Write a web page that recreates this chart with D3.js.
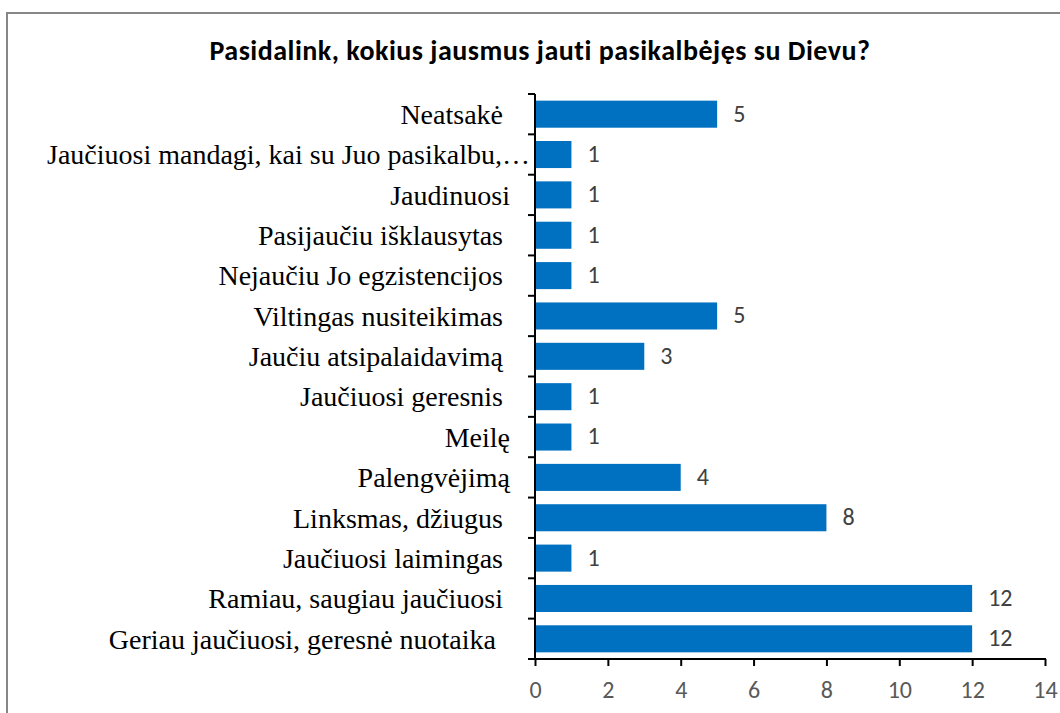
<!DOCTYPE html>
<html>
<head>
<meta charset="utf-8">
<script src="https://cdn.jsdelivr.net/npm/d3@7"></script>
<style>
  body { margin:0; background:#fff; }
  svg { display:block; }
</style>
</head>
<body>
<div class="content"></div>
<script>
const W = 1060, H = 713;
const margin = { top:94, right:15, bottom:54, left:535 };
const sansFont = "Carlito, 'Open Sans', 'Liberation Sans', sans-serif";
const serifFont = "'Liberation Serif', 'Times New Roman', serif";

// data (top to bottom)
const categories = [
  "Neatsakė ",
  "Jaučiuosi mandagi, kai su Juo pasikalbu,…",
  "Jaudinuosi",
  "Pasijaučiu išklausytas ",
  "Nejaučiu Jo egzistencijos ",
  "Viltingas nusiteikimas ",
  "Jaučiu atsipalaidavimą ",
  "Jaučiuosi geresnis ",
  "Meilę",
  "Palengvėjimą",
  "Linksmas, džiugus ",
  "Jaučiuosi laimingas ",
  "Ramiau, saugiau jaučiuosi ",
  "Geriau jaučiuosi, geresnė nuotaika  "
];
const values = [5, 1, 1, 1, 1, 5, 3, 1, 1, 4, 8, 1, 12, 12];
const xTicks = [0, 2, 4, 6, 8, 10, 12, 14];
const title = "Pasidalink, kokius jausmus jauti pasikalbėjęs su Dievu?";

const data = categories.map((c, i) => ({ cat: c, val: values[i] }));

const svg = d3.select(".content")
              .append("svg")
              .attr("width", W)
              .attr("height", H);

// chart frame
svg.append("rect")
   .attr("x", 7).attr("y", 13)
   .attr("width", W + 20).attr("height", H + 20)
   .attr("fill", "none")
   .attr("stroke", "#878787")
   .attr("stroke-width", 2);

svg.append("text")
   .attr("x", 540)
   .attr("y", 60)
   .attr("text-anchor", "middle")
   .attr("font-family", sansFont)
   .attr("font-weight", "bold")
   .attr("font-size", 28)
   .attr("letter-spacing", 0.5)
   .attr("fill", "#000")
   .text(title);

let xScale = d3.scaleLinear()
               .domain([0, 14])
               .range([margin.left, 1045]);

let yScale = d3.scaleBand()
               .domain(categories)
               .range([margin.top, H - margin.bottom])
               .paddingInner(0.33)
               .paddingOuter(0.165);

// bars
svg.selectAll(".bar")
   .data(data)
   .enter().append("rect")
   .attr("class", "bar")
   .attr("x", xScale(0))
   .attr("y", d => yScale(d.cat))
   .attr("width", d => xScale(d.val) - xScale(0))
   .attr("height", yScale.bandwidth())
   .attr("fill", "#0070C0");

// value labels
svg.selectAll(".valLabel")
   .data(data)
   .enter().append("text")
   .attr("class", "valLabel")
   .attr("x", d => xScale(d.val) + 16)
   .attr("y", d => yScale(d.cat) + yScale.bandwidth() / 2)
   .attr("dy", "0.31em")
   .attr("font-family", sansFont)
   .attr("font-size", 24)
   .attr("fill", "#404040")
   .text(d => d.val);

// x axis
svg.append("g")
   .attr("transform", `translate(0, ${H - margin.bottom})`)
   .call(d3.axisBottom(xScale).tickValues(xTicks).tickSize(7).tickSizeOuter(0).tickPadding(15))
   .call(g => g.select(".domain").attr("stroke", "#000").attr("stroke-width", 2).attr("d", `M${margin.left - 7},0H${xScale(14) + 1}`))
   .call(g => g.selectAll("line").attr("stroke", "#000").attr("stroke-width", 2))
   .call(g => g.selectAll("text")
               .attr("font-family", sansFont)
               .attr("font-size", 24)
               .attr("fill", "#595959"));

// y axis: ticks at category boundaries, labels centred
const yAxisG = svg.append("g")
   .attr("transform", `translate(${margin.left}, 0)`);

yAxisG.append("line")
   .attr("x1", 0).attr("x2", 0)
   .attr("y1", margin.top).attr("y2", H - margin.bottom)
   .attr("stroke", "#000").attr("stroke-width", 2);

const step = yScale.step();
const bounds = d3.range(categories.length).map(i => margin.top + i * step);
yAxisG.selectAll(".ytick")
   .data(bounds)
   .enter().append("line")
   .attr("x1", -7).attr("x2", 0)
   .attr("y1", d => d).attr("y2", d => d)
   .attr("stroke", "#000").attr("stroke-width", 2);

yAxisG.selectAll(".ylabel")
   .data(categories)
   .enter().append("text")
   .attr("x", -25)
   .attr("y", d => yScale(d) + yScale.bandwidth() / 2)
   .attr("dy", "0.35em")
   .attr("text-anchor", "end")
   .attr("font-family", serifFont)
   .attr("font-size", 28)
   .attr("fill", "#000")
   .style("white-space", "pre")
   .text(d => d)
   .each(function() {
     // the truncated label starts near the frame edge and runs into the axis
     const w = this.getComputedTextLength();
     if (margin.left - 25 - w < 47) {
       d3.select(this).attr("text-anchor", "start").attr("x", 47 - margin.left);
     }
   });
</script>
</body>
</html>
